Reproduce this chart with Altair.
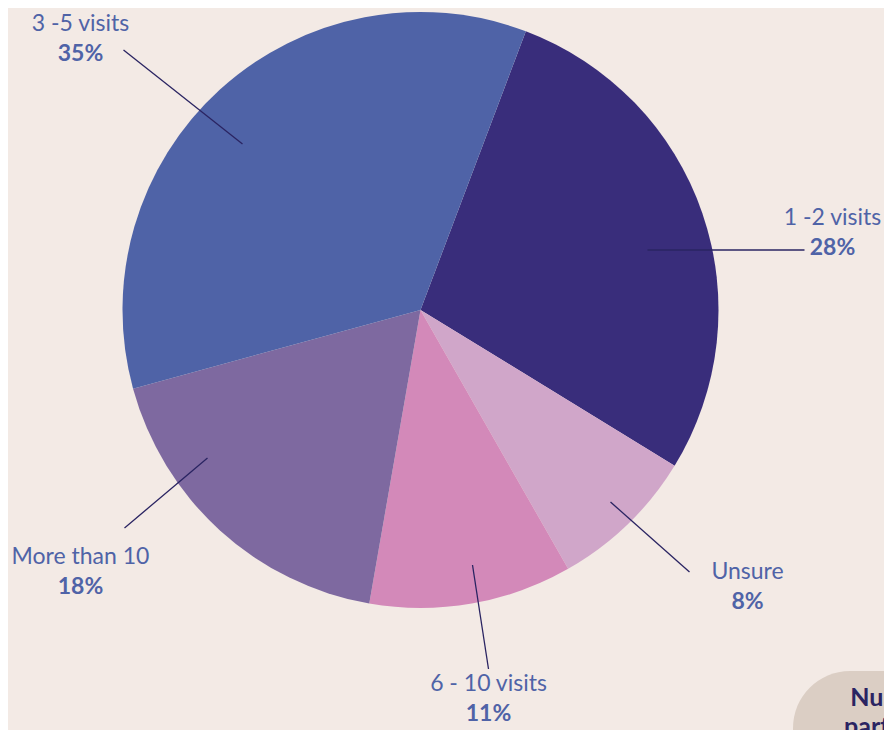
import math
import altair as alt
import pandas as pd

# ---- data ----
categories = ["1 -2 visits", "Unsure", "6 - 10 visits", "More than 10", "3 -5 visits"]
values = [28, 8, 11, 18, 35]
pct_labels = ["28%", "8%", "11%", "18%", "35%"]
colors = ["#392d7b", "#d0a6c9", "#d389b9", "#7e69a0", "#4f63a7"]

# ---- annotation layout (offsets from pie centre, px) ----
line_in_dx = [227, 190, 52, -213, -178]
line_in_dy = [-60, 192, 255, 148, -166]
line_out_dx = [384, 269, 68, -296, -297]
line_out_dy = [-60, 262, 359, 218, -260]
label_dx = [412, 327, 68, -340, -340]
label_dy = [-92, 262, 374, 247, -286]

W, H = 876, 722
CX, CY = 412.5, 302.0          # pie centre inside the chart area
R = 298
start = math.radians(20.7)

df = pd.DataFrame({
    "cat": categories, "value": values, "pct": pct_labels, "idx": list(range(5)),
    "x1": line_in_dx, "y1": line_in_dy, "x2": line_out_dx, "y2": line_out_dy,
    "lx": label_dx, "ly": label_dy,
})

xs = alt.Scale(domain=[-CX, W - CX], range=[0, W])
ys = alt.Scale(domain=[-CY, H - CY], range=[0, H])

pie = alt.Chart(df).mark_arc(radius=R, stroke=None).encode(
    theta=alt.Theta("value:Q", stack=True,
                    scale=alt.Scale(domain=[0, sum(values)], range=[start, start + 2 * math.pi])),
    color=alt.Color("cat:N", scale=alt.Scale(domain=categories, range=colors), legend=None),
    order=alt.Order("idx:Q"),
    x=alt.X(datum=0, type="quantitative", scale=xs, axis=None),
    y=alt.Y(datum=0, type="quantitative", scale=ys, axis=None),
)

lines = alt.Chart(df).mark_rule(color="#2a2462", strokeWidth=1.3).encode(
    x=alt.X("x1:Q", scale=xs, axis=None),
    y=alt.Y("y1:Q", scale=ys, axis=None),
    x2="x2:Q",
    y2="y2:Q",
)

names = alt.Chart(df).mark_text(font="Lato", fontSize=23, color="#4f63a7",
                                align="center", baseline="middle").encode(
    x=alt.X("lx:Q", scale=xs, axis=None),
    y=alt.Y("ly:Q", scale=ys, axis=None),
    text="cat:N",
)
pcts = alt.Chart(df).mark_text(font="Lato", fontSize=23, fontWeight="bold", color="#4f63a7",
                               align="center", baseline="middle", dy=30).encode(
    x=alt.X("lx:Q", scale=xs, axis=None),
    y=alt.Y("ly:Q", scale=ys, axis=None),
    text="pct:N",
)

# partially visible note box in the lower-right corner
box_df = pd.DataFrame({"bx": [372.5], "bx2": [640.0], "by": [361.0], "by2": [600.0],
                       "tx": [489.5], "ty": [388.0], "t": [["Number of", "participants"]]})
box = alt.Chart(box_df).mark_rect(color="#dbcec4", cornerRadius=57).encode(
    x=alt.X("bx:Q", scale=xs, axis=None), x2="bx2:Q",
    y=alt.Y("by:Q", scale=ys, axis=None), y2="by2:Q",
)
box_text = alt.Chart(box_df).mark_text(font="Lato", fontSize=25, fontWeight="bold",
                                       color="#2a2462", align="center", baseline="middle",
                                       lineHeight=29).encode(
    x=alt.X("tx:Q", scale=xs, axis=None),
    y=alt.Y("ty:Q", scale=ys, axis=None),
    text="t",
)

chart = alt.layer(pie, lines, names, pcts, box, box_text).properties(
    width=W, height=H,
    autosize=alt.AutoSizeParams(type="none"),
    padding=0,
    background="#f3eae5",
).configure_view(stroke=None)

chart.save("out.html", embed_options={"renderer": "svg", "actions": False})
